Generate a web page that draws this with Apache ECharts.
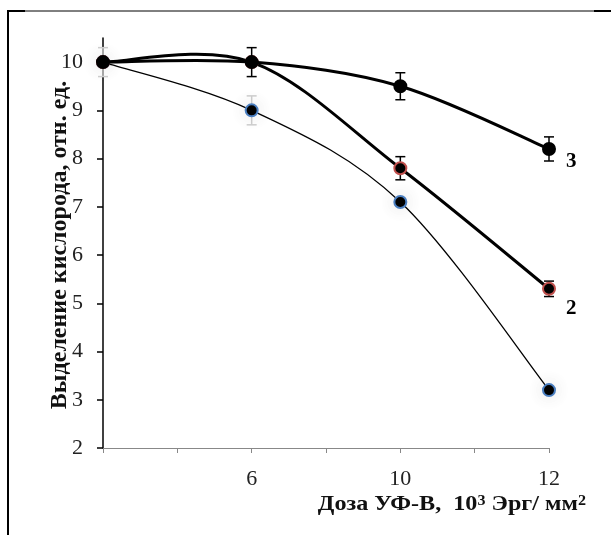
<!DOCTYPE html>
<html>
<head>
<meta charset="utf-8">
<script src="https://cdn.jsdelivr.net/npm/echarts@6/dist/echarts.min.js"></script>
<style>
  html, body { margin: 0; padding: 0; background: #fff; }
  #chart { width: 611px; height: 535px; }
</style>
</head>
<body>
<div id="chart"></div>
<script>
// x positions on the axis (0 = unlabeled origin), tick labels per slot
const xPos = [0, 2, 4, 6];
const xLabels = ["", "", "6", "", "10", "", "12"];
const yTicks = [2, 3, 4, 5, 6, 7, 8, 9, 10];

// series values
const curve1 = [10, 9, 7.1, 3.2];
const curve2 = [10, 10, 7.8, 5.3];
const curve3 = [10, 10, 9.5, 8.2];

// error half-widths
const err1 = [0.3, 0.3, 0, 0];
const err2 = [0, 0, 0.24, 0.16];
const err3 = [0, 0.3, 0.28, 0.25];

const font = "'Liberation Serif', 'Times New Roman', serif";

const toPairs = (vals) => vals.map((v, i) => [xPos[i], v]);
const toErr = (vals, errs) =>
  vals.map((v, i) => [xPos[i], v, errs[i]]).filter((d) => d[2] > 0);

// spreadsheet-style smoothed line (catmull-rom, may overshoot like the original)
function smoothLine(name, vals, width, z) {
  return {
    name: name,
    type: "custom",
    z: z,
    data: toPairs(vals),
    renderItem: function (params, api) {
      const i = params.dataIndex;
      const n = vals.length;
      if (i >= n - 1) return null;
      const p = (j) => {
        const k = Math.max(0, Math.min(n - 1, j));
        return api.coord([xPos[k], vals[k]]);
      };
      const p0 = p(i - 1), p1 = p(i), p2 = p(i + 1), p3 = p(i + 2);
      return {
        type: "bezierCurve",
        shape: {
          x1: p1[0], y1: p1[1],
          x2: p2[0], y2: p2[1],
          cpx1: p1[0] + (p2[0] - p0[0]) / 6,
          cpy1: p1[1] + (p2[1] - p0[1]) / 6,
          cpx2: p2[0] - (p3[0] - p1[0]) / 6,
          cpy2: p2[1] - (p3[1] - p1[1]) / 6,
        },
        style: { stroke: "#000", lineWidth: width, fill: null },
      };
    },
  };
}

function errorBars(name, vals, errs, color, z) {
  return {
    name: name,
    type: "custom",
    z: z,
    data: toErr(vals, errs),
    renderItem: function (params, api) {
      const x = api.value(0);
      const y = api.value(1);
      const e = api.value(2);
      const top = api.coord([x, y + e]);
      const bot = api.coord([x, y - e]);
      const w = 5;
      const style = { stroke: color, lineWidth: 1.5 };
      return {
        type: "group",
        children: [
          { type: "line", shape: { x1: top[0], y1: top[1], x2: bot[0], y2: bot[1] }, style },
          { type: "line", shape: { x1: top[0] - w, y1: top[1], x2: top[0] + w, y2: top[1] }, style },
          { type: "line", shape: { x1: bot[0] - w, y1: bot[1], x2: bot[0] + w, y2: bot[1] }, style },
        ],
      };
    },
  };
}

function markers(name, vals, border, z, label, labelDy) {
  const s = {
    name: name,
    type: "line",
    z: z,
    data: toPairs(vals),
    symbol: "circle",
    symbolSize: 12,
    lineStyle: { opacity: 0 },
    itemStyle: { color: "#000", borderColor: border, borderWidth: 2 },
  };
  if (label) {
    s.endLabel = {
      show: true,
      formatter: label,
      distance: 0,
      offset: [17, labelDy],
      fontFamily: font,
      fontSize: 21,
      fontWeight: "bold",
      color: "#000",
    };
  }
  return s;
}

const chart = echarts.init(document.getElementById("chart"));

const m1 = markers("1", curve1, "#4a7ec0", 4);
m1.itemStyle.shadowBlur = 18;
m1.itemStyle.shadowColor = "rgba(0,0,0,0.14)";
const m3 = markers("3", curve3, "#000", 9, "3", 13);

chart.setOption({
  animation: false,
  backgroundColor: "#fff",
  grid: { left: 103, right: 62, top: 38, bottom: 87 },
  xAxis: {
    type: "value",
    min: 0,
    max: 6,
    interval: 1,
    splitLine: { show: false },
    axisLine: { lineStyle: { color: "#888", width: 1 } },
    axisTick: { length: 5, lineStyle: { color: "#888" } },
    axisLabel: {
      margin: 20,
      color: "#222",
      fontFamily: font,
      fontSize: 22,
      formatter: (v) => xLabels[v] || "",
    },
  },
  yAxis: {
    type: "value",
    min: 2,
    max: 10.5,
    splitLine: { show: false },
    axisLine: { lineStyle: { color: "#000", width: 1.5 } },
    axisTick: { length: 6, customValues: yTicks, lineStyle: { color: "#000", width: 1.5 } },
    axisLabel: {
      margin: 20,
      customValues: yTicks,
      color: "#222",
      fontFamily: font,
      fontSize: 22,
    },
  },
  series: [
    errorBars("err1", curve1, err1, "#cfcfcf", 2),
    smoothLine("line1", curve1, 1.3, 3),
    m1,
    smoothLine("line2", curve2, 3, 5),
    errorBars("err2", curve2, err2, "#000", 6),
    markers("2", curve2, "#c0504d", 7, "2", 20),
    smoothLine("line3", curve3, 3, 8),
    errorBars("err3", curve3, err3, "#000", 8),
    m3,
  ],
  graphic: [
    { type: "line", shape: { x1: 8, y1: 10, x2: 8, y2: 535 }, style: { stroke: "#000", lineWidth: 2 } },
    { type: "line", shape: { x1: 7, y1: 11, x2: 611, y2: 11 }, style: { stroke: "#000", lineWidth: 1 } },
    { type: "line", shape: { x1: 7, y1: 11, x2: 25, y2: 11 }, style: { stroke: "#000", lineWidth: 2 } },
    { type: "line", shape: { x1: 594, y1: 11, x2: 611, y2: 11 }, style: { stroke: "#000", lineWidth: 2 } },
    {
      type: "text",
      x: 60,
      y: 245,
      rotation: Math.PI / 2,
      style: {
        text: "Выделение кислорода, отн. ед.",
        align: "center",
        verticalAlign: "middle",
        fontFamily: font,
        fontSize: 24,
        fontWeight: "bold",
        fill: "#111",
      },
    },
    {
      type: "text",
      x: 586,
      y: 505,
      scaleX: 1.15,
      style: {
        text: "Доза УФ-В,  10{s|3} Эрг/ мм{s|2}",
        align: "right",
        verticalAlign: "middle",
        fontFamily: font,
        fontSize: 21,
        fontWeight: "bold",
        fill: "#111",
        rich: {
          s: { fontFamily: font, fontSize: 14, fontWeight: "bold", fill: "#111", verticalAlign: "top", padding: [0, 0, 8, 0] },
        },
      },
    },
  ],
});
</script>
</body>
</html>
